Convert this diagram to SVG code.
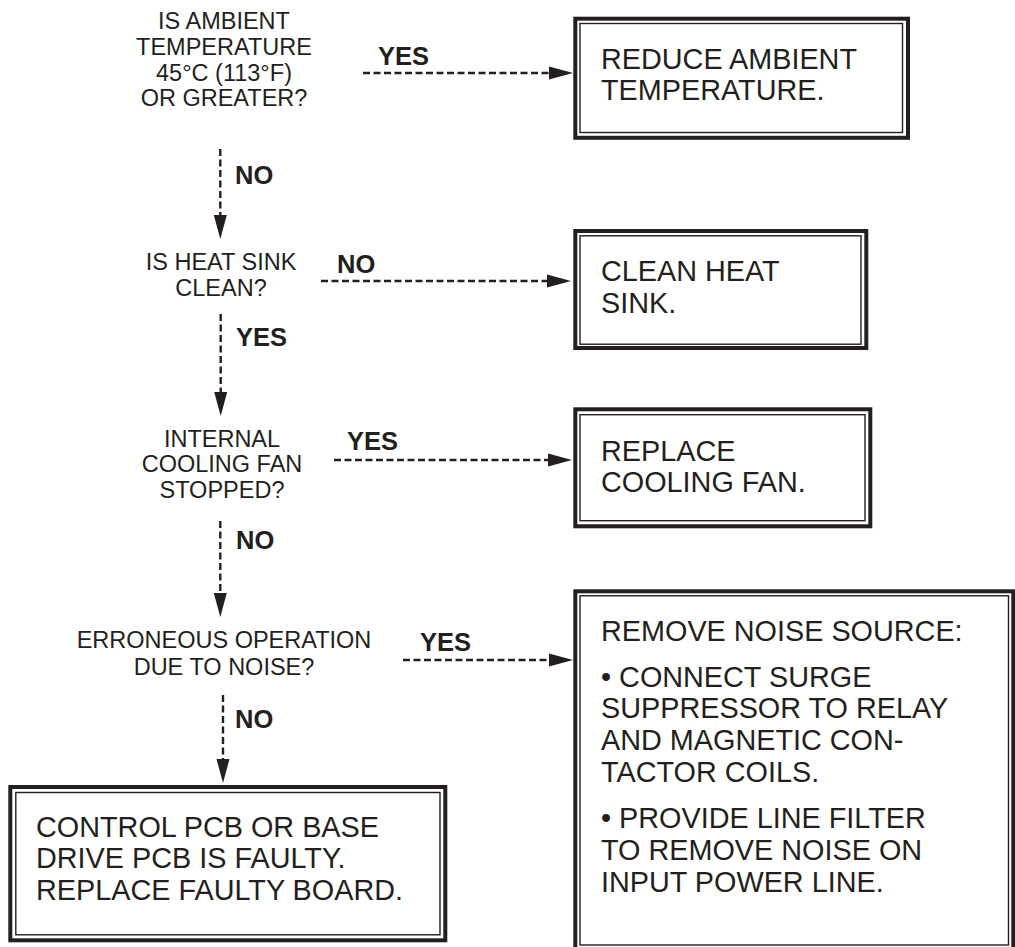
<svg xmlns="http://www.w3.org/2000/svg" width="1015" height="947" viewBox="0 0 1015 947">
<style>
.q{font-family:"Liberation Sans",Arial,sans-serif;font-size:23.5px;fill:#231f20;text-anchor:middle}
.lb{font-family:"Liberation Sans",Arial,sans-serif;font-size:25.5px;font-weight:bold;fill:#231f20}
.bt{font-family:"Liberation Sans",Arial,sans-serif;font-size:28.8px;fill:#231f20}
.ob{fill:none;stroke:#231f20;stroke-width:4}
.ib{fill:none;stroke:#231f20;stroke-width:1.4}
.c{fill:none;stroke:#231f20;stroke-width:2.4;stroke-dasharray:7,3.5}
</style>
<defs>
<marker id="ah" markerUnits="userSpaceOnUse" markerWidth="24" markerHeight="14" refX="0" refY="6.5" orient="auto" overflow="visible">
<path d="M0,0 L24,6.5 L0,13 z" fill="#231f20"/>
</marker>
</defs>
<rect width="1015" height="947" fill="#fff"/>

<g id="q1">
<text class="q" x="224" y="29">IS AMBIENT</text>
<text class="q" x="224" y="55">TEMPERATURE</text>
<text class="q" x="224" y="81">45°C (113°F)</text>
<text class="q" x="224" y="106">OR GREATER?</text>
</g>
<g id="q2">
<text class="q" x="221" y="270">IS HEAT SINK</text>
<text class="q" x="221" y="296">CLEAN?</text>
</g>
<g id="q3">
<text class="q" x="222" y="447">INTERNAL</text>
<text class="q" x="222" y="472">COOLING FAN</text>
<text class="q" x="222" y="498">STOPPED?</text>
</g>
<g id="q4">
<text class="q" x="224" y="648">ERRONEOUS OPERATION</text>
<text class="q" x="224" y="675">DUE TO NOISE?</text>
</g>

<g id="box-reduce">
<rect class="ob" x="575.3" y="18.7" width="332.7" height="119.1"/>
<rect class="ib" x="580" y="23.5" width="322.5" height="109"/>
<text class="bt" x="601" y="69">REDUCE AMBIENT</text>
<text class="bt" x="601" y="100">TEMPERATURE.</text>
</g>
<g id="box-clean">
<rect class="ob" x="575.3" y="231" width="291" height="117"/>
<rect class="ib" x="580" y="235.8" width="281" height="108.4"/>
<text class="bt" x="601" y="281">CLEAN HEAT</text>
<text class="bt" x="601" y="313">SINK.</text>
</g>
<g id="box-fan">
<rect class="ob" x="575.3" y="409.3" width="295" height="117"/>
<rect class="ib" x="580" y="414.7" width="285" height="106"/>
<text class="bt" x="601" y="461">REPLACE</text>
<text class="bt" x="601" y="492">COOLING FAN.</text>
</g>
<g id="box-noise">
<rect class="ob" x="575.3" y="591.3" width="438" height="380"/>
<rect class="ib" x="580" y="595.8" width="428.5" height="349.2"/>
<text class="bt" x="601" y="641">REMOVE NOISE SOURCE:</text>
<text class="bt" x="601" y="687">• CONNECT SURGE</text>
<text class="bt" x="601" y="718">SUPPRESSOR TO RELAY</text>
<text class="bt" x="601" y="750">AND MAGNETIC CON-</text>
<text class="bt" x="601" y="782">TACTOR COILS.</text>
<text class="bt" x="601" y="828">• PROVIDE LINE FILTER</text>
<text class="bt" x="601" y="860">TO REMOVE NOISE ON</text>
<text class="bt" x="601" y="892">INPUT POWER LINE.</text>
</g>
<g id="box-pcb">
<rect class="ob" x="10.3" y="787" width="435" height="153.3"/>
<rect class="ib" x="15.8" y="792.5" width="424.2" height="142.3"/>
<text class="bt" x="36" y="837">CONTROL PCB OR BASE</text>
<text class="bt" x="36" y="868">DRIVE PCB IS FAULTY.</text>
<text class="bt" x="36" y="900">REPLACE FAULTY BOARD.</text>
</g>

<g id="connectors">
<line class="c" x1="363" y1="73" x2="549" y2="73" marker-end="url(#ah)"/>
<text class="lb" x="378" y="65">YES</text>
<line class="c" x1="220.3" y1="149" x2="220.3" y2="215" marker-end="url(#ah)"/>
<text class="lb" x="235" y="184">NO</text>
<line class="c" x1="321" y1="281" x2="547" y2="281" marker-end="url(#ah)"/>
<text class="lb" x="337" y="273">NO</text>
<line class="c" x1="220.7" y1="314" x2="220.7" y2="392" marker-end="url(#ah)"/>
<text class="lb" x="236" y="346">YES</text>
<line class="c" x1="334" y1="460" x2="548" y2="460" marker-end="url(#ah)"/>
<text class="lb" x="347" y="450">YES</text>
<line class="c" x1="220.3" y1="521" x2="220.3" y2="593" marker-end="url(#ah)"/>
<text class="lb" x="236" y="549">NO</text>
<line class="c" x1="403" y1="660" x2="549" y2="660" marker-end="url(#ah)"/>
<text class="lb" x="420" y="651">YES</text>
<line class="c" x1="223" y1="695" x2="223" y2="759" marker-end="url(#ah)"/>
<text class="lb" x="235" y="728">NO</text>
</g>
</svg>
